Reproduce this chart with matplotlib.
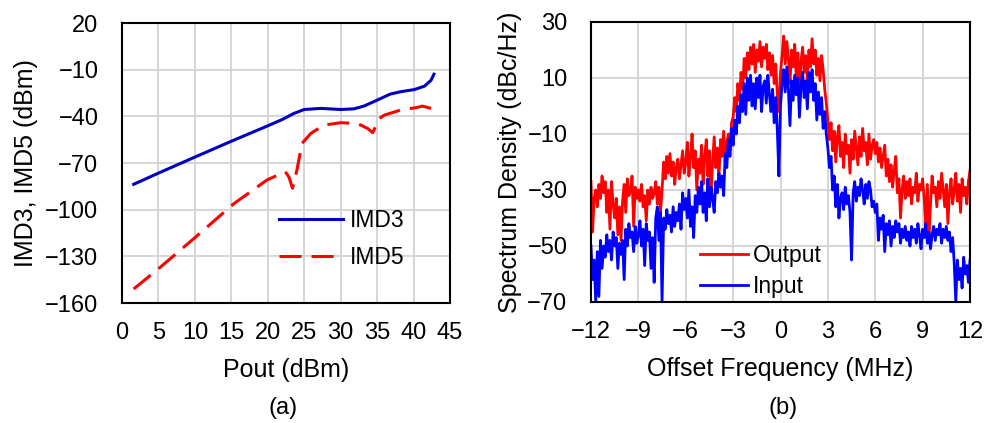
import numpy as np
import matplotlib
matplotlib.use("Agg")
import matplotlib.pyplot as plt

plt.rcParams['font.family'] = ['Liberation Sans', 'DejaVu Sans']

# ---- Panel (a) data ----
imd3_pout = [1.6, 5, 10, 15, 19.9, 22, 23.6, 25, 27.3, 30, 31.8, 33.2, 35, 36.8, 38.2, 40.1, 41.5, 42.4, 42.8]
imd3_val = [-83.7, -76.5, -66.2, -56.0, -46.3, -42.0, -38.1, -35.6, -34.9, -35.6, -35.2, -33.4, -29.6, -25.7, -24.2, -22.8, -20.6, -16.8, -12.9]

imd5_pout = [1.6, 5, 10, 15.3, 19.9, 22.4, 22.9, 23.4, 24.0, 24.7, 25.9, 27.7, 30, 32.3, 33.7, 34.4, 35.3, 36, 38.2, 40.5, 41.2, 42.4]
imd5_val = [-151, -138, -118, -96.3, -80.9, -75.6, -79.0, -86.2, -74.5, -57.4, -51, -45.6, -44.1, -44.6, -47.8, -50.5, -41.4, -39.2, -36, -34.3, -33.4, -34.9]

# ---- Panel (b) data ----
freq = np.round(np.arange(-12.0, 12.0001, 0.1), 1)
output_psd = [
    -27, -45, -33, -30, -36, -28, -33, -25, -31, -27,
    -38, -30, -44, -27, -35, -40, -33, -46, -36, -48,
    -34, -28, -38, -26, -32, -30, -25, -43, -29, -33,
    -30, -34, -28, -36, -32, -41, -30, -35, -29, -33,
    -31, -27, -35, -29, -38, -30, -20, -26, -18, -24,
    -17, -25, -20, -28, -22, -19, -26, -21, -16, -24,
    -20, -13, -25, -18, -10, -22, -16, -30, -19, -24,
    -14, -28, -18, -12, -25, -16, -32, -20, -11, -22,
    -15, -26, -12, -18, -9, -20, -13, -10, -16, -6,
    -4, 3, -2, 8, 2, 12, 6, 17, 10, 19,
    13, 21, 15, 22, 12, 20, 16, 23, 14, 21,
    17, 22, 13, 19, 11, 18, 8, 15, 4, -2,
    12, 18, 25, 15, 23, 17, 8, 20, 14, 22,
    10, 19, 3, 16, 21, 12, 18, 9, 20, 14,
    24, 15, 20, 11, 17, 9, 18, 13, 6, 1,
    -5, -12, -6, -16, -9, -20, -11, -7, -18, -13,
    -22, -10, -17, -14, -24, -12, -19, -9, -15, -21,
    -11, -18, -8, -16, -13, -21, -10, -19, -14, -12,
    -17, -13, -20, -15, -22, -18, -14, -25, -19, -27,
    -21, -29, -23, -18, -31, -26, -40, -30, -25, -33,
    -27, -32, -26, -35, -29, -31, -24, -34, -28, -30,
    -26, -33, -43, -28, -47, -35, -25, -31, -29, -36,
    -27, -33, -24, -30, -36, -28, -42, -31, -26, -35,
    -30, -24, -34, -28, -38, -26, -32, -29, -35, -27,
    -23,
]
input_psd = [
    -50, -62, -55, -70, -52, -68, -48, -58, -50, -54,
    -46, -52, -48, -55, -45, -50, -47, -58, -49, -53,
    -48, -62, -44, -50, -42, -47, -45, -52, -43, -49,
    -46, -41, -50, -44, -57, -42, -48, -45, -58, -47,
    -63, -40, -36, -48, -38, -70, -40, -44, -37, -42,
    -39, -45, -36, -43, -38, -41, -35, -44, -31, -37,
    -33, -40, -30, -43, -36, -47, -32, -38, -29, -35,
    -27, -38, -31, -41, -26, -36, -29, -33, -38, -27,
    -31, -24, -29, -25, -32, -17, -22, -12, -18, -8,
    -14, -5, -10, 0, -6, 4, -2, 8, -3, 10,
    2, 11, 0, 8, -1, 10, 3, 11, -2, 7,
    9, 1, 11, 4, -2, 6, -6, 3, -9, -25,
    0, 8, 13, 5, 14, 6, -7, 9, 2, 11,
    4, 10, -4, 7, 12, 3, 9, -1, 12, 5,
    13, 2, 8, -5, 5, -3, 3, -8, -2, -10,
    -15, -22, -18, -30, -25, -36, -28, -40, -33, -31,
    -37, -29, -35, -32, -38, -55, -31, -27, -34, -29,
    -32, -26, -30, -35, -28, -33, -27, -30, -36, -34,
    -38, -35, -48, -40, -44, -39, -52, -42, -46, -41,
    -50, -43, -47, -41, -45, -42, -49, -44, -47, -43,
    -48, -45, -50, -43, -47, -44, -49, -42, -46, -51,
    -44, -47, -42, -49, -45, -51, -46, -43, -48, -44,
    -46, -42, -49, -44, -47, -43, -48, -45, -52, -47,
    -56, -70, -55, -62, -58, -65, -54, -60, -57, -63,
    -55,
]

a_xticks = [0, 5, 10, 15, 20, 25, 30, 35, 40, 45]
a_yticks = [20, -10, -40, -70, -100, -130, -160]
b_xticks = [-12, -9, -6, -3, 0, 3, 6, 9, 12]
b_yticks = [30, 10, -10, -30, -50, -70]

TFS = 17      # tick labels
LFS = 18      # axis labels
GFS = 16.5    # legend
W, H = 991, 423
fig = plt.figure(figsize=(W / 100, H / 100), dpi=100)

def box(l, r, t, b):
    return [l / W, (H - b) / H, (r - l) / W, (b - t) / H]

ax1 = fig.add_axes(box(122, 450, 23, 303))
ax2 = fig.add_axes(box(591, 970, 22, 302))

grid_kw = dict(color='#d0d0d0', linewidth=1.2)

def minus(v):
    return str(v).replace('-', '\u2212')

# Panel (a)
ax1.plot(imd3_pout, imd3_val, color='#0000C0', lw=2.2, label='IMD3')
ax1.plot(imd5_pout, imd5_val, color='#FF0000', lw=2.2, label='IMD5', dashes=(7.2, 3.3))
ax1.set_xlim(0, 45)
ax1.set_ylim(-160, 20)
ax1.set_xticks(a_xticks)
ax1.set_yticks(a_yticks)
ax1.set_yticklabels([minus(v) for v in a_yticks])
ax1.grid(True, **grid_kw)
ax1.set_axisbelow(True)
ax1.set_xlabel('Pout (dBm)', fontsize=LFS, labelpad=10)
ax1.set_ylabel('IMD3, IMD5 (dBm)', fontsize=LFS, labelpad=5)
ax1.legend(loc='lower right', bbox_to_anchor=(0.89, 0.09), frameon=False, fontsize=GFS,
           handlelength=2.8, handletextpad=0.3, labelspacing=0.6, borderaxespad=0)

# Panel (b)
ax2.plot(freq, output_psd, color='#FF0000', lw=2.0, label='Output')
ax2.plot(freq, input_psd, color='#0000FF', lw=2.0, label='Input')
ax2.set_xlim(-12, 12)
ax2.set_ylim(-70, 30)
ax2.set_xticks(b_xticks)
ax2.set_yticks(b_yticks)
ax2.set_xticklabels([minus(v) for v in b_xticks])
ax2.set_yticklabels([minus(v) for v in b_yticks])
ax2.grid(True, **grid_kw)
ax2.set_axisbelow(True)
ax2.set_xlabel('Offset Frequency (MHz)', fontsize=LFS, labelpad=10)
ax2.set_ylabel('Spectrum Density (dBc/Hz)', fontsize=LFS, labelpad=4)
ax2.legend(loc='lower left', bbox_to_anchor=(0.264, -0.02), frameon=False, fontsize=GFS,
           handlelength=2.1, handletextpad=0.2, labelspacing=0.35, borderaxespad=0)

for ax in (ax1, ax2):
    for s in ax.spines.values():
        s.set_color('black')
        s.set_linewidth(1.5)
    ax.tick_params(axis='both', length=0, labelsize=TFS)
    ax.tick_params(axis='x', pad=14)
    ax.tick_params(axis='y', pad=17)

fig.text(283 / W, 1 - 408 / H, '(a)', ha='center', va='center', fontsize=17)
fig.text(783 / W, 1 - 408 / H, '(b)', ha='center', va='center', fontsize=17)

fig.savefig('out.png', dpi=100)
